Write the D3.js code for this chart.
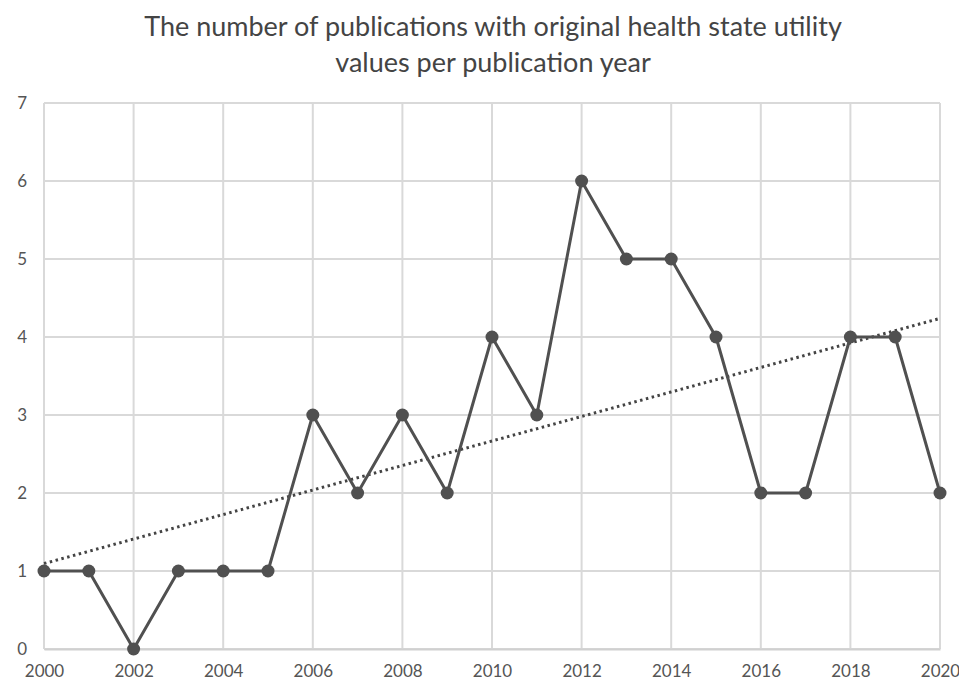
<!DOCTYPE html>
<html><head><meta charset="utf-8">
<script src="https://cdn.jsdelivr.net/npm/d3@7"></script>
<style>body{margin:0;background:#fff}svg{display:block}</style>
</head><body><svg id="c" width="959" height="682"></svg>
<script>
const years = [2000,2001,2002,2003,2004,2005,2006,2007,2008,2009,2010,2011,2012,2013,2014,2015,2016,2017,2018,2019,2020];
const counts = [1,1,0,1,1,1,3,2,3,2,4,3,6,5,5,4,2,2,4,4,2];
const xTicks = [2000,2002,2004,2006,2008,2010,2012,2014,2016,2018,2020];
const yTicks = [0,1,2,3,4,5,6,7];
const titleLines = ["The number of publications with original health state utility","values per publication year"];

const svg = d3.select("#c");
const font = "Lato, 'Open Sans', sans-serif";
const x = d3.scaleLinear().domain([2000,2020]).range([44,940]);
const y = d3.scaleLinear().domain([0,7]).range([649,103]);

// gridlines
svg.append("g").selectAll("line.h").data(yTicks).join("line")
  .attr("x1",x(2000)).attr("x2",x(2020)).attr("y1",d=>y(d)).attr("y2",d=>y(d))
  .attr("stroke","#d9d9d9").attr("stroke-width",2);
svg.append("g").selectAll("line.v").data(xTicks).join("line")
  .attr("y1",y(0)).attr("y2",y(7)).attr("x1",d=>x(d)).attr("x2",d=>x(d))
  .attr("stroke","#d9d9d9").attr("stroke-width",2);

// axes labels
const xAxis = d3.axisBottom(x).tickValues(xTicks).tickFormat(d3.format("d")).tickSize(0).tickPadding(16);
const gx = svg.append("g").attr("transform",`translate(0,${y(0)})`).call(xAxis);
gx.select(".domain").attr("stroke","#d0d0d0").attr("stroke-width",2);
gx.selectAll("text").attr("font-family",font).attr("font-size",17).attr("fill","#555");

const yAxis = d3.axisLeft(y).tickValues(yTicks).tickFormat(d3.format("d")).tickSize(0).tickPadding(17);
const gy = svg.append("g").attr("transform",`translate(${x(2000)},0)`).call(yAxis);
gy.select(".domain").remove();
gy.selectAll("text").attr("font-family",font).attr("font-size",17).attr("fill","#555");

// trend line (least squares)
const mx = d3.mean(years), my = d3.mean(counts);
const slope = d3.sum(years,(d,i)=>(d-mx)*(counts[i]-my))/d3.sum(years,d=>(d-mx)*(d-mx));
const trend = [2000,2020].map(v=>[v, my+slope*(v-mx)]);
svg.append("path").datum(trend)
  .attr("d",d3.line().x(d=>x(d[0])).y(d=>y(d[1])))
  .attr("fill","none").attr("stroke","#444").attr("stroke-width",3)
  .attr("stroke-dasharray","2.5,3.5");

// data line
const pts = years.map((d,i)=>[d,counts[i]]);
svg.append("path").datum(pts)
  .attr("d",d3.line().x(d=>x(d[0])).y(d=>y(d[1])))
  .attr("fill","none").attr("stroke","#505050").attr("stroke-width",3).attr("stroke-linejoin","round");
svg.append("g").selectAll("circle").data(pts).join("circle")
  .attr("cx",d=>x(d[0])).attr("cy",d=>y(d[1])).attr("r",6.5).attr("fill","#505050");

// title
svg.append("g").selectAll("text").data(titleLines).join("text")
  .attr("x",493).attr("y",(d,i)=>36+i*36).attr("text-anchor","middle")
  .attr("font-family",font).attr("font-size",27).attr("fill","#444").text(d=>d);
</script></body></html>
